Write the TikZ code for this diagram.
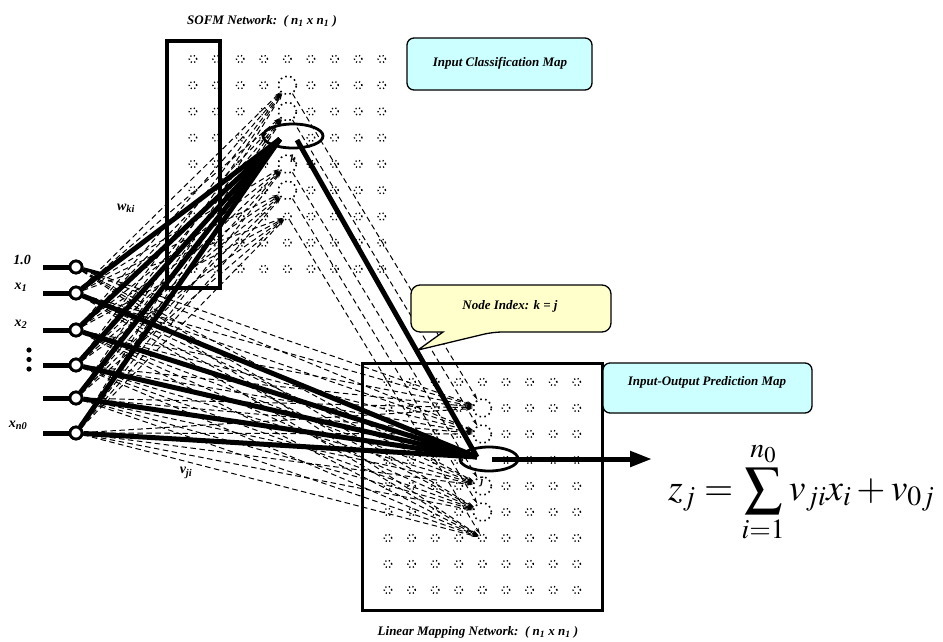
\documentclass[tikz,border=0pt]{standalone}
\usepackage{mathptmx}
\usepackage{fontspec}
\setmainfont{Liberation Serif}
\usetikzlibrary{arrows.meta,shapes.geometric}
\definecolor{mapcyan}{RGB}{204,255,255}
\definecolor{callyellow}{RGB}{255,255,204}
\tikzset{
 lbl/.style={font=\fontsize{13}{15}\selectfont\bfseries\itshape, inner sep=0pt},
 inlbl/.style={font=\fontsize{14}{16}\selectfont\bfseries\itshape, inner sep=0pt},
 smalldot/.style={draw, line width=1.4pt, dash pattern=on 1.2pt off 2.5pt, circle, minimum size=7.5pt, inner sep=0pt},
 bigdot/.style={draw, line width=1.6pt, dash pattern=on 1.6pt off 3.3pt, circle, minimum size=18pt, inner sep=0pt},
 innode/.style={circle, draw, fill=white, line width=2.8pt, minimum size=12pt, inner sep=0pt},
 fan/.style={line width=5pt},
 dline/.style={line width=1pt, dash pattern=on 5.5pt off 3.5pt, -{Stealth[length=6.5pt,width=3.5pt]}},
 mapbox/.style={draw, rounded corners=7pt, fill=mapcyan, line width=1.3pt, inner sep=0pt},
 ringnode/.style={draw, ellipse, line width=2.8pt, inner sep=0pt}
}
\begin{document}
\begin{tikzpicture}[x=1pt,y=-1pt]
\useasboundingbox (0,0) rectangle (943,641);
% grids
\foreach \i in {0,...,8}{
  \foreach \j in {0,...,8}{
    \pgfmathtruncatemacro{\myskip}{(\i==4)&&(\j>0)&&(\j<6)}
    \ifnum\myskip=0
      \node[smalldot] (t\i\j) at ({193+23.6*\i},{59+26.25*\j}) {};
      \node[smalldot] (b\i\j) at ({388+23.6*\i},{382+26*\j}) {};
    \fi
  }
}
\foreach \j in {1,2,4,5}{
  \node[bigdot] (t4\j) at (287.4,{59+26.25*\j}) {};
  \node[bigdot] (b4\j) at (482.4,{382+26*\j}) {};
}
% boxes
\node[draw, line width=4pt, minimum width=53pt, minimum height=247pt, inner sep=0pt] (sofmbox) at (193.5,164.5) {};
\node[draw, line width=3pt, minimum width=240pt, minimum height=247pt, inner sep=0pt] (linbox) at (482,486.5) {};
% inputs
\foreach \n/\y in {0/267,1/293,2/330,3/365,4/398,5/433}{
  \coordinate (l\n) at (43,\y);
  \node[innode] (in\n) at (76,\y) {};
}
\coordinate (topc) at (280,139);
\coordinate (topr) at (297,140);
\coordinate (botc) at (477,457);
\coordinate (outs) at (492,459);
\coordinate (oute) at (652,459);
\coordinate (stub) at (102,274);
% dashed weight connections
\foreach \n in {1,...,5}{\foreach \t in {1,2,4,5,6}{\draw[dline] (in\n) -- (t4\t);}}
\foreach \n in {0,...,5}{\foreach \t in {1,2,4,5,6}{\draw[dline] (in\n) -- (b4\t);}}
\foreach \t in {1,2,4,5,6}{\draw[dline] (t4\t) -- (b4\t);}
% ellipses
\node[ringnode, minimum width=60pt, minimum height=24pt] (topell) at (293,136) {};
\node[ringnode, minimum width=58pt, minimum height=24pt] (botell) at (489,459) {};
% thick connections
\foreach \n in {0,...,5}{\draw[fan] (l\n) -- (in\n);}
\foreach \n in {1,...,5}{\draw[fan] (in\n) -- (topc);}
\foreach \n in {1,...,5}{\draw[fan] (in\n) -- (botc);}
\draw[line width=3.5pt] (in0) -- (stub);
\draw[fan] (topr) -- (botc);
\draw[fan, -{Triangle[length=22pt,width=15pt]}] (outs) -- (oute);
\foreach \n/\y in {0/267,1/293,2/330,3/365,4/398,5/433}{
  \node[innode] (inb\n) at (76,\y) {};
}
% dots
\fill (29,350) circle (2.6pt) (29,359.5) circle (2.6pt) (29,369) circle (2.6pt);
% labels
\node[lbl] (title) at (262,21) {SOFM Network:~~( n\textsubscript{1} x n\textsubscript{1} )};
\node[lbl] (bottitle) at (478,632) {Linear Mapping Network:~~( n\textsubscript{1} x n\textsubscript{1} )};
\node[inlbl] (lab0) at (22,260) {1.0};
\node[inlbl] (lab1) at (21,287) {x\textsubscript{1}};
\node[inlbl] (lab2) at (21,324) {x\textsubscript{2}};
\node[inlbl] (lab5) at (18,425) {x\textsubscript{n0}};
\node[inlbl] (wki) at (126,208) {w\textsubscript{ki}};
\node[inlbl] (vji) at (186,473) {v\textsubscript{ji}};
\node[font=\fontsize{11}{12}\selectfont\bfseries\itshape, inner sep=0pt] (klab) at (293,159) {k};
\node[font=\fontsize{11}{12}\selectfont\bfseries\itshape, inner sep=0pt] (jlab) at (482,482) {j};
% map boxes
\node[mapbox, minimum width=185pt, minimum height=52pt] (icmbox) at (499.5,64) {};
\node[lbl] (icmtext) at (500,63) {Input Classification Map};
\node[mapbox, minimum width=209pt, minimum height=50pt] (iopbox) at (707.5,388) {};
\node[lbl] (ioptext) at (707,382) {Input-Output Prediction Map};
% callout
\draw[fill=callyellow, line width=1.3pt, rounded corners=9pt] (411,285) -- (611,285) -- (611,332) -- (493,332) [sharp corners] -- (418,350) -- (443,332) [rounded corners=9pt] -- (411,332) -- cycle;
\node[lbl] (callout) at (510,306) {Node Index: k = j};
% formula
\node[anchor=base west, inner sep=0pt] (formula) at (668,500) {\fontsize{37.5}{45}\selectfont $\displaystyle z_j=\sum_{i=1}^{n_0} v_{ji}x_i+v_{0j}$};
\end{tikzpicture}
\end{document}
